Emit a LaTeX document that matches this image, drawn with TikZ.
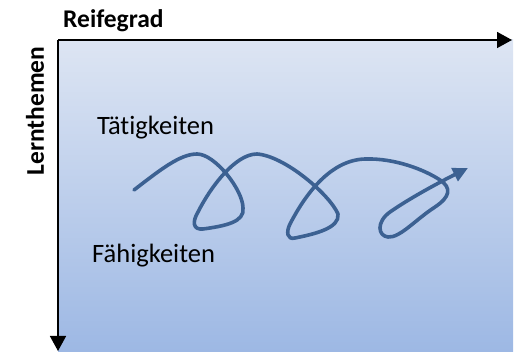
\documentclass[tikz,border=0pt]{standalone}
\usepackage{fontspec}
\setmainfont[Ligatures=NoCommon]{Carlito}
\usetikzlibrary{arrows.meta}
\definecolor{fieldtop}{RGB}{221,229,243}
\definecolor{fieldbottom}{RGB}{157,184,228}
\definecolor{pathblue}{RGB}{60,97,146}
\tikzset{
  axis/.style={line width=1.6pt, -{Triangle[length=15pt,width=16pt]}},
  axislabel/.style={font=\fontsize{25.5}{30}\selectfont\bfseries, inner sep=0pt},
  fieldlabel/.style={font=\fontsize{26.5}{31}\selectfont, inner sep=0pt, anchor=base west},
  spiral/.style={pathblue, line width=3.6pt, line cap=round, line join=round,
    -{Triangle[length=15pt,width=14pt]}}
}
\begin{document}
\begin{tikzpicture}[x=1pt,y=-1pt]
  \useasboundingbox (0,0) rectangle (517,352);
  % gradient field
  \shade[top color=fieldtop, bottom color=fieldbottom] (58,40) rectangle (513,352);
  % axes
  \coordinate (origin) at (58,40);
  \coordinate (xend) at (512,40);
  \coordinate (yend) at (58,351);
  \draw[axis] (origin) -- (xend);
  \draw[axis] (origin) -- (yend);
  \node[axislabel, anchor=base west] (reife) at (63,28) {Reifegrad};
  \node[axislabel, rotate=90] (lern) at (35,111) {Lernthemen};
  % labels inside the field
  \node[fieldlabel] (taet) at (97,135) {Tätigkeiten};
  \node[fieldlabel] (faeh) at (92,263) {Fähigkeiten};
  % looping path
  \draw[spiral] (134,190)
    .. controls (160,170) and (180,154) .. (197,154)
    .. controls (215,154) and (243,190) .. (243,208)
    .. controls (245,222) and (225,226) .. (203,229)
    .. controls (193,230) and (192,222) .. (198,212)
    .. controls (210,188) and (235,154) .. (257,154)
    .. controls (285,156) and (330,195) .. (338,214)
    .. controls (340,228) and (315,234) .. (295,238)
    .. controls (287,240) and (286,232) .. (290,224)
    .. controls (305,195) and (330,160) .. (365,159)
    .. controls (395,158) and (425,170) .. (440,180)
    .. controls (452,188) and (450,197) .. (435,207)
    .. controls (415,220) and (400,238) .. (388,237)
    .. controls (378,236) and (376,222) .. (390,212)
    .. controls (410,198) and (440,182) .. (468,168);
\end{tikzpicture}
\end{document}
